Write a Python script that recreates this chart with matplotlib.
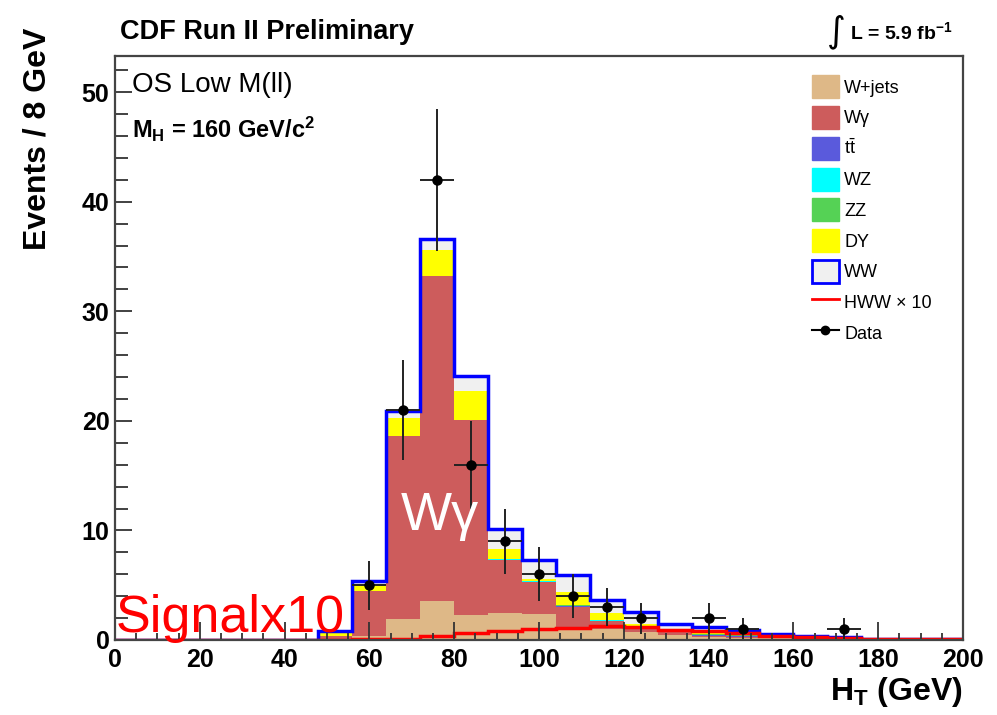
import matplotlib
matplotlib.use("Agg")
import matplotlib.pyplot as plt
from matplotlib.patches import Patch
from matplotlib.lines import Line2D
from matplotlib.ticker import MultipleLocator
import numpy as np

plt.rcParams["font.family"] = ["Liberation Sans", "DejaVu Sans"]
plt.rcParams["mathtext.fontset"] = "custom"
plt.rcParams["mathtext.rm"] = "Liberation Sans"
plt.rcParams["mathtext.bf"] = "Liberation Sans:bold"
plt.rcParams["mathtext.it"] = "Liberation Sans:italic"

# H_T bins of 8 GeV, 0..200
edges = np.arange(0, 201, 8)

# stacked backgrounds (events per bin)
wjets  = [0, 0, 0, 0, 0, 0, 0.1, 0.4, 1.9, 3.6, 2.3, 2.5, 2.4, 1.0, 1.0, 0.7, 0.5, 0.3, 0.2, 0.15, 0.1, 0.05, 0, 0, 0]
wgamma = [0, 0, 0, 0, 0, 0, 0.3, 4.1, 16.7, 29.6, 17.8, 4.8, 2.9, 2.05, 0.7, 0.4, 0.2, 0.1, 0.1, 0, 0, 0, 0, 0, 0]
ttbar  = [0, 0, 0, 0, 0, 0, 0, 0, 0, 0, 0.02, 0.03, 0.03, 0.04, 0.04, 0.04, 0.04, 0.03, 0.05, 0.03, 0.02, 0.02, 0.01, 0.01, 0.01]
wz     = [0, 0, 0, 0, 0, 0, 0, 0, 0, 0, 0, 0.02, 0.03, 0.03, 0.04, 0.04, 0.04, 0.05, 0.03, 0.02, 0.01, 0.01, 0, 0, 0]
zz     = [0, 0, 0, 0, 0, 0, 0, 0, 0, 0, 0, 0, 0.02, 0.03, 0.05, 0.05, 0.06, 0.1, 0.04, 0.02, 0.01, 0.01, 0, 0, 0]
dy     = [0, 0, 0, 0, 0, 0, 0.4, 0.6, 1.7, 2.4, 2.6, 1.0, 0.2, 1.25, 0.65, 0.2, 0.05, 0.02, 0, 0, 0, 0, 0, 0, 0]
ww     = [0, 0, 0, 0, 0, 0.02, 0.05, 0.3, 0.6, 1.0, 1.4, 1.75, 1.75, 1.5, 1.2, 1.1, 0.6, 0.55, 0.48, 0.3, 0.21, 0.18, 0.11, 0.07, 0.05]
hww10  = [0, 0, 0, 0, 0, 0, 0.02, 0.05, 0.1, 0.35, 0.6, 0.85, 1.0, 1.1, 1.25, 1.15, 0.95, 0.8, 0.6, 0.4, 0.25, 0.2, 0.12, 0.08, 0.06]
data   = [0, 0, 0, 0, 0, 0, 0, 5, 21, 42, 16, 9, 6, 4, 3, 2, 0, 2, 1, 0, 0, 1, 0, 0, 0]

labels = ["W+jets", "W\u03b3", r"t$\bar{\mathrm{t}}$", "WZ", "ZZ", "DY", "WW"]
colors = ["#deb887", "#cd5c5c", "#5a5adc", "#00ffff", "#55d255", "#ffff00", "#f0f0f0"]

fig = plt.figure(figsize=(9.97, 7.15), dpi=100)
ax = fig.add_axes([0.1153, 0.1049, 0.8506, 0.8168])

base = np.zeros(len(edges) - 1)
for vals, c in zip([wjets, wgamma, ttbar, wz, zz, dy, ww], colors):
    vals = np.array(vals)
    ax.stairs(base + vals, edges, baseline=base, fill=True, color=c, lw=0)
    base = base + vals

ax.stairs(base, edges, baseline=None, color="#0000ff", lw=2.5)
ax.stairs(hww10, edges, baseline=None, color="#ff0000", lw=2.5)

centers = 0.5 * (edges[:-1] + edges[1:])
data = np.array(data, dtype=float)
m = data > 0
ax.errorbar(centers[m], data[m], yerr=np.sqrt(data[m]), xerr=4, fmt="o",
            color="black", ms=6.5, elinewidth=1.4, capsize=0, ecolor="#222222")

ax.set_xlim(0, 200)
ax.set_ylim(0, 53.3)
ax.xaxis.set_major_locator(MultipleLocator(20))
ax.xaxis.set_minor_locator(MultipleLocator(5))
ax.yaxis.set_major_locator(MultipleLocator(10))
ax.yaxis.set_minor_locator(MultipleLocator(2))
ax.tick_params(which="both", direction="in", top=False, right=False, color="#333333", width=1.3)
ax.tick_params(axis="x", which="major", length=13, pad=6)
ax.tick_params(axis="x", which="minor", length=5)
ax.tick_params(axis="y", which="major", length=12, pad=4)
ax.tick_params(axis="y", which="minor", length=9)
for lab in ax.get_xticklabels() + ax.get_yticklabels():
    lab.set_fontweight("bold")
    lab.set_fontsize(18)
for s in ax.spines.values():
    s.set_color("#444444")
    s.set_linewidth(1.6)

fig.text(0.038, 0.962, "Events / 8 GeV", fontsize=23, fontweight="bold",
         rotation=90, ha="center", va="top")
ax.set_xlabel(r"H$_{\mathbf{T}}$ (GeV)", fontsize=23, fontweight="bold", loc="right", labelpad=2)

fig.text(0.120, 0.955, "CDF Run II Preliminary", fontsize=19.5, fontweight="bold", va="center")
fig.text(0.829, 0.955, "\u222b", fontsize=26, va="center", family="DejaVu Sans")
fig.text(0.853, 0.955, r"L = 5.9 fb$^{\mathbf{-1}}$", fontsize=14, fontweight="bold", va="center")

ax.text(0.02, 0.95, "OS Low M(ll)", transform=ax.transAxes, fontsize=20, va="center")
ax.text(0.02, 0.875, r"M$_{\mathbf{H}}$ = 160 GeV/c$^{\mathbf{2}}$", transform=ax.transAxes,
        fontsize=17, fontweight="bold", va="center")

fig.text(0.116, 0.116, "Signalx10", color="#ff0000", fontsize=37.5, va="baseline")
fig.text(0.402, 0.259, "W\u03b3", color="white", fontsize=39, va="baseline")

handles = [Patch(facecolor=c, edgecolor=c) for c in colors[:-1]]
handles.append(Patch(facecolor=colors[-1], edgecolor="#0000ff", lw=2))
handles.append(Line2D([], [], color="#ff0000", lw=2))
handles.append(Line2D([], [], color="black", lw=1.5, marker="o", ms=6))
ax.legend(handles, labels + ["HWW \u00d7 10", "Data"], loc="upper left",
          bbox_to_anchor=(0.807, 0.905), bbox_transform=fig.transFigure, frameon=False,
          fontsize=13, handlelength=1.5, handleheight=1.6, labelspacing=0.42,
          handletextpad=0.3, borderaxespad=0)

fig.savefig("out.png", dpi=100)
